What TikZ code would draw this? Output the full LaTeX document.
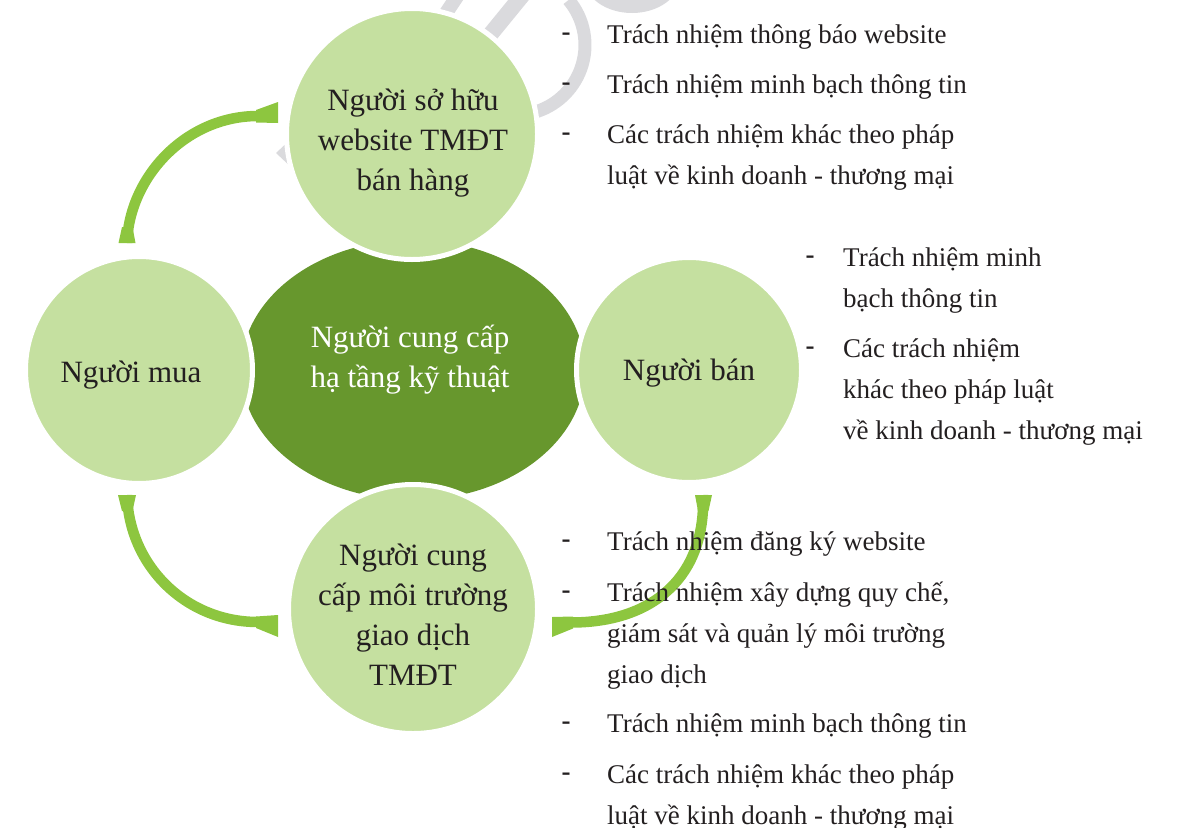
\documentclass[tikz,border=0pt]{standalone}
\usepackage{fontspec}
\setmainfont{Liberation Serif}
\usetikzlibrary{shapes.geometric,calc}
\definecolor{lightg}{RGB}{197,224,160}
\definecolor{darkg}{RGB}{103,151,45}
\definecolor{arrowg}{RGB}{141,198,63}
\definecolor{wmgray}{RGB}{218,218,221}
\definecolor{ink}{RGB}{35,31,32}
\begin{document}
\begin{tikzpicture}[x=1pt,y=-1pt,
  circ/.style={circle,fill=lightg,draw=white,line width=5pt,inner sep=0pt,outer sep=0pt},
  hub/.style={ellipse,fill=darkg,inner sep=0pt,outer sep=0pt},
  ctext/.style={align=center,anchor=base,inner sep=0pt,text=ink,font=\fontsize{31}{40}\selectfont},
  htext/.style={ctext,text=white},
  itemtext/.style={align=left,anchor=base west,inner sep=0pt,text=ink,font=\fontsize{27}{41}\selectfont},
  dashmark/.style={anchor=base,inner sep=0pt,text=ink,font=\fontsize{27}{41}\selectfont\bfseries},
  band/.style={draw=arrowg,line width=10.5pt},
  barb/.style={fill=arrowg},
  wm/.style={draw=wmgray,line width=14pt},
]
\useasboundingbox (0,0) rectangle (1188,827);

% watermark fragments
\draw[wm,line width=13pt] (515,45) ++(-40:70) arc[start angle=-40,end angle=75,radius=70];
\draw[wm,line width=16pt] (525,-8) -- (476,52);
\draw[wm] (460,-8) -- (436,28);
\fill[wmgray] (632,-22) ellipse [x radius=48, y radius=35];
\fill[wmgray] (276,153) -- (292,138) -- (292,168) -- cycle;

% hub and circles
\node[hub,minimum width=344pt,minimum height=260pt] (hub) at (413,370) {};
\node[circ,minimum size=251pt] (owner) at (412,134) {};
\node[circ,minimum size=227pt] (buyer) at (139,370) {};
\node[circ,minimum size=225pt] (seller) at (689,370) {};
\node[circ,minimum size=249pt] (platform) at (413,609) {};

% arrow 1: buyer -> owner
\coordinate (a1s) at ($(buyer.center)+(-12,-127)$);
\coordinate (a1e) at ($(owner.center)+(-154,-18)$);
\draw[band] (a1s) .. controls +(2,-65) and +(-73,0) .. (a1e);
\fill[barb] ($(a1e)+(-2,-6)$) -- ($(a1e)+(20,-14)$) -- ($(a1e)+(20,7)$) -- ($(a1e)+(-2,6.5)$) -- cycle;
\fill[barb] ($(a1s)+(-8.5,0)$) -- ($(a1s)+(8.5,0)$) -- ($(a1s)+(5.5,-16)$) -- ($(a1s)+(-5,-16)$) -- cycle;

% arrow 2: buyer -> platform
\coordinate (a2s) at ($(buyer.center)+(-12,125)$);
\coordinate (a2e) at ($(platform.center)+(-155,13)$);
\draw[band] (a2s) .. controls +(2,70) and +(-73,0) .. (a2e);
\fill[barb] ($(a2e)+(-2,-5.5)$) -- ($(a2e)+(20,-7)$) -- ($(a2e)+(20,15)$) -- ($(a2e)+(-2,6)$) -- cycle;
\fill[barb] ($(a2s)+(-9,0)$) -- ($(a2s)+(9,0)$) -- ($(a2s)+(5.5,16)$) -- ($(a2s)+(-5,16)$) -- cycle;

% arrow 3: seller -> platform
\coordinate (a3s) at ($(seller.center)+(14,125)$);
\coordinate (a3e) at ($(platform.center)+(158,13.5)$);
\draw[band] (a3s) .. controls +(3,80) and +(84,0) .. (a3e);
\fill[barb] ($(a3e)+(2,-6)$) -- ($(a3e)+(-19,-5.5)$) -- ($(a3e)+(-19,14.5)$) -- ($(a3e)+(2,6)$) -- cycle;
\fill[barb] ($(a3s)+(-8,0)$) -- ($(a3s)+(9,0)$) -- ($(a3s)+(5.5,16)$) -- ($(a3s)+(-5,16)$) -- cycle;

% circle texts (anchor = baseline of the last line)
\node[ctext] (owner-t) at (413,190) {Người sở hữu\\website TMĐT\\bán hàng};
\node[htext] (hub-t) at (410,387) {Người cung cấp\\hạ tầng kỹ thuật};
\node[ctext] (buyer-t) at (131,382) {Người mua};
\node[ctext] (seller-t) at (689,380) {Người bán};
\node[ctext] (platform-t) at (413,685) {Người cung\\cấp môi trường\\giao dịch\\TMĐT};

% top list
\node[dashmark] (td1) at (566,40) {-};
\node[itemtext] (ti1) at (607,43) {Trách nhiệm thông báo website};
\node[dashmark] (td2) at (566,90) {-};
\node[itemtext] (ti2) at (607,93) {Trách nhiệm minh bạch thông tin};
\node[dashmark] (td3) at (566,140) {-};
\node[itemtext] (ti3) at (607,184) {Các trách nhiệm khác theo pháp\\luật về kinh doanh - thương mại};

% right list
\node[dashmark] (rd1) at (810,263) {-};
\node[itemtext] (ri1) at (843,307) {Trách nhiệm minh\\bạch thông tin};
\node[dashmark] (rd2) at (810,354) {-};
\node[itemtext] (ri2) at (843,439) {Các trách nhiệm\\khác theo pháp luật\\về kinh doanh - thương mại};

% bottom list
\node[dashmark] (bd1) at (566,547) {-};
\node[itemtext] (bi1) at (607,550) {Trách nhiệm đăng ký website};
\node[dashmark] (bd2) at (566,598) {-};
\node[itemtext] (bi2) at (607,683) {Trách nhiệm xây dựng quy chế,\\giám sát và quản lý môi trường\\giao dịch};
\node[dashmark] (bd3) at (566,729) {-};
\node[itemtext] (bi3) at (607,732) {Trách nhiệm minh bạch thông tin};
\node[dashmark] (bd4) at (566,780) {-};
\node[itemtext] (bi4) at (607,824) {Các trách nhiệm khác theo pháp\\luật về kinh doanh - thương mại};
\end{tikzpicture}
\end{document}
